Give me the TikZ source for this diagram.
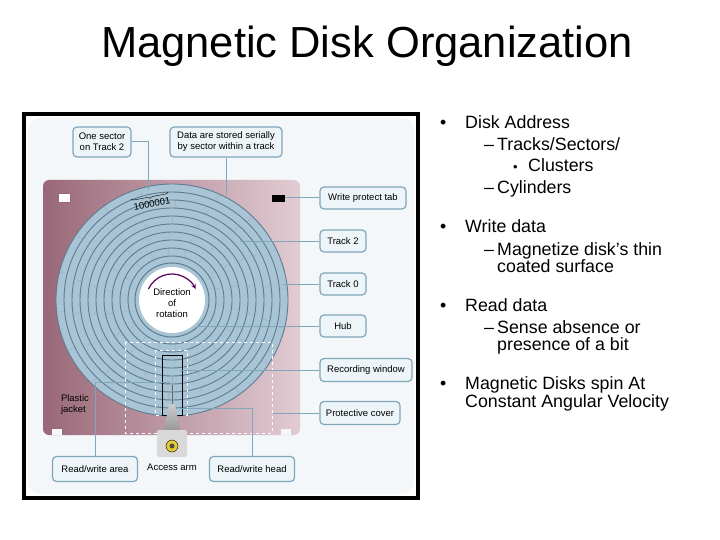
\documentclass[tikz,border=0pt]{standalone}
\usepackage{fontspec}
\setmainfont{Liberation Sans}
\usetikzlibrary{decorations.pathreplacing,calc}
\definecolor{jk}{HTML}{9A6878}
\definecolor{jkl}{HTML}{E2CCD3}
\definecolor{dsk}{HTML}{A9C4D4}
\definecolor{trk}{HTML}{5C7C92}
\definecolor{bxf}{HTML}{EEF5F8}
\definecolor{bxd}{HTML}{7FA6BA}
\definecolor{bg}{HTML}{F3F7F9}
\begin{document}
\begin{tikzpicture}[x=1pt,y=-1pt,
  lbl/.style={draw=bxd,line width=1.2pt,fill=bxf,rounded corners=4pt,font=\fontsize{9.5}{11}\selectfont,align=center,inner sep=2pt},
  con/.style={draw=bxd,line width=1pt},
  bul/.style={anchor=base west,inner sep=0pt,font=\fontsize{17.8}{19}\selectfont,align=left}]
\useasboundingbox (0,0) rectangle (720,540);
\node[font=\fontsize{43.5}{48}\selectfont] (title) at (367,46) {Magnetic Disk Organization};
% frame
\draw[line width=4pt,fill=white] (24,114) rectangle (418,498);
\fill[bg,rounded corners=12pt] (28,118) rectangle (414,494);
% jacket
\shade[left color=jk,right color=jkl,rounded corners=6pt] (43,180) rectangle (300,435);
\fill[bg] (52,435) rectangle (62,429);
\fill[bg] (281,435) rectangle (291,429);
\fill[white,draw=jk] (58,193) rectangle (70,202);
\fill[black] (272,195) rectangle (285,202);
% disk
\fill[dsk] (172,300) circle (116);
\foreach \r in {44,52,...,116}{\draw[trk,line width=0.9pt] (172,300) circle (\r);}
\foreach \a in {0,20,...,340}{\foreach \r in {48,64,80,96,112}{\draw[trk!60,line width=0.4pt] ($(172,300)+(\a+\r/8:\r-3)$) -- ($(172,300)+(\a+\r/8:\r+3)$);}}
\fill[dsk] (172,300) circle (40);
\draw[trk,line width=1pt] (172,300) circle (37);
\fill[white] (172,300) circle (33);
\draw[-stealth,violet!70!black,line width=1.2pt] ($(172,300)+(-155:26)$) arc (-155:-25:26);
\node[font=\fontsize{9.5}{11}\selectfont,align=center] (dir) at (172,303) {Direction\\of\\rotation};
% recording window & cover
\draw[white,dashed,line width=1pt] (125,342) rectangle (272,433);
\draw[white,dashed,line width=1pt] (155,350) rectangle (187,415);
\draw[black,line width=1pt] (162,355) rectangle (182,415);
% access arm
\shade[top color=gray!40,bottom color=gray!80] (164,430) -- (169,404) -- (175,404) -- (180,430) -- cycle;
\fill[gray!30,rounded corners=2pt] (157,430) rectangle (187,457);
\draw[fill=yellow!60!brown] (172,446) circle (6);
\fill[black!70] (172,446) circle (2.5);
\draw[line width=1pt,black!60] (172,404) -- (172,385);
% sector label
\node[rotate=10,font=\fontsize{9.5}{10}\selectfont] (sec) at (152,204) {1000001};
\draw[decorate,decoration={brace,amplitude=3pt,mirror}] (131,199) -- (168,192);
\node[font=\fontsize{9.5}{11}\selectfont,align=left] (pj) at (75,405) {Plastic\\jacket};
\node[font=\fontsize{9.5}{11}\selectfont] (arm) at (172,467) {Access arm};
% labels
\node[lbl,minimum width=58pt,minimum height=30pt] (b1) at (102,142) {One sector\\on Track 2};
\node[lbl,minimum width=112pt,minimum height=30pt] (b2) at (226,142) {Data are stored serially\\by sector within a track};
\node[lbl,minimum width=86pt,minimum height=22pt] (b3) at (363,198) {Write protect tab};
\node[lbl,minimum width=46pt,minimum height=22pt] (b4) at (343,241) {Track 2};
\node[lbl,minimum width=46pt,minimum height=22pt] (b5) at (343,284) {Track 0};
\node[lbl,minimum width=46pt,minimum height=22pt] (b6) at (343,326) {Hub};
\node[lbl,minimum width=92pt,minimum height=23pt] (b7) at (366,370) {Recording window};
\node[lbl,minimum width=80pt,minimum height=23pt] (b8) at (360,413) {Protective cover};
\node[lbl,minimum width=85pt,minimum height=25pt] (b9) at (95,469) {Read/write area};
\node[lbl,minimum width=85pt,minimum height=25pt] (b10) at (252,469) {Read/write head};
\coordinate (c1) at (148,190);
\coordinate (c2) at (226,195);
\coordinate (c3) at (285,198);
\coordinate (c4) at (240,241);
\coordinate (c5) at (283,284);
\coordinate (c6) at (197,326);
\coordinate (c7) at (180,370);
\coordinate (c8) at (273,413);
\coordinate (c9) at (170,382);
\coordinate (c10) at (180,408);
\draw[con] (b1.east) -| (c1);
\draw[con] (b2.south) -- (c2);
\draw[con] (b3.west) -- (c3);
\draw[con] (b4.west) -- (c4);
\draw[con] (b5.west) -- (c5);
\draw[con] (b6.west) -- (c6);
\draw[con] (b7.west) -- (c7);
\draw[con] (b8.west) -- (c8);
\draw[con] (b9.north) |- (c9);
\draw[con] (b10.north) |- (c10);
% bullets
\node[bul] (t1) at (440,129) {•};
\node[bul] (t1a) at (465,129) {Disk Address};
\node[bul] (t1b) at (484,151) {–};
\node[bul] (t1c) at (497,151) {Tracks/Sectors/};
\node[bul] (t1d) at (513,172) {\fontsize{13}{15}\selectfont•};
\node[bul] (t1e) at (528,172) {Clusters};
\node[bul] (t1f) at (484,194) {–};
\node[bul] (t1g) at (497,194) {Cylinders};
\node[bul] (t2) at (440,233) {•};
\node[bul] (t2a) at (465,233) {Write data};
\node[bul] (t2b) at (484,255) {–};
\node[bul] (t2c) at (497,255) {Magnetize disk’s thin};
\node[bul] (t2d) at (497,272) {coated surface};
\node[bul] (t3) at (440,311) {•};
\node[bul] (t3a) at (465,311) {Read data};
\node[bul] (t3b) at (484,333) {–};
\node[bul] (t3c) at (497,333) {Sense absence or};
\node[bul] (t3d) at (497,350) {presence of a bit};
\node[bul] (t4) at (440,389) {•};
\node[bul] (t4a) at (465,389) {Magnetic Disks spin At};
\node[bul] (t4b) at (465,407) {Constant Angular Velocity};
\end{tikzpicture}
\end{document}
